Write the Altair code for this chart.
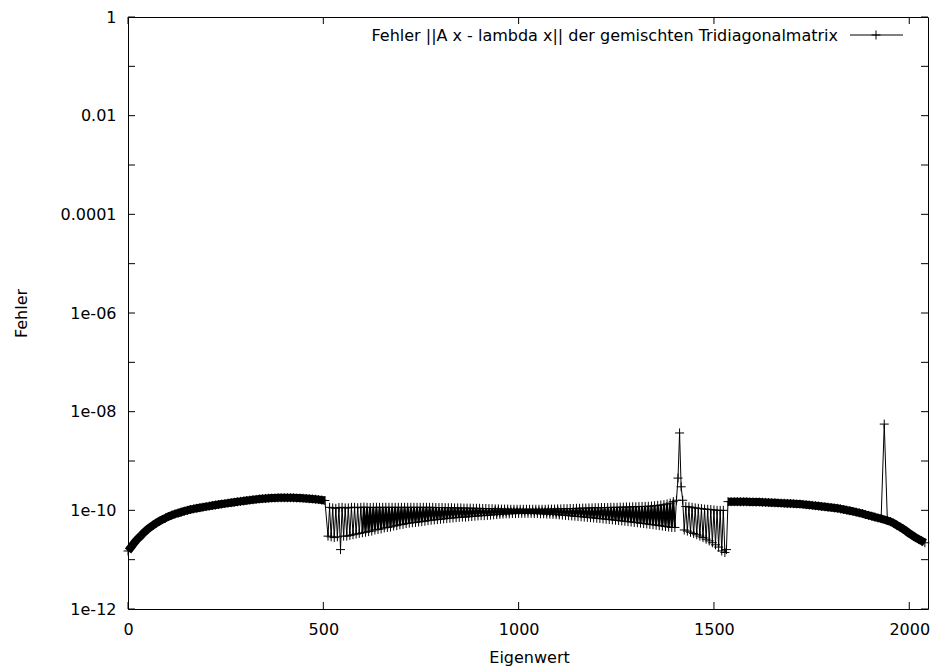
import altair as alt
import pandas as pd

# ---- data ----
x_seg1 = list(range(0, 512, 8))
err_seg1 = [
    1.5e-11, 1.8e-11, 2.2e-11, 2.6e-11, 3.0e-11, 3.5e-11, 4.0e-11, 4.5e-11,
    5.0e-11, 5.5e-11, 6.0e-11, 6.5e-11, 7.0e-11, 7.5e-11, 8.0e-11, 8.4e-11,
    8.8e-11, 9.2e-11, 9.6e-11, 1.0e-10, 1.04e-10, 1.07e-10, 1.10e-10, 1.13e-10,
    1.16e-10, 1.19e-10, 1.22e-10, 1.25e-10, 1.28e-10, 1.31e-10, 1.34e-10, 1.37e-10,
    1.40e-10, 1.43e-10, 1.46e-10, 1.49e-10, 1.52e-10, 1.55e-10, 1.58e-10, 1.61e-10,
    1.64e-10, 1.67e-10, 1.70e-10, 1.72e-10, 1.74e-10, 1.76e-10, 1.77e-10, 1.78e-10,
    1.79e-10, 1.80e-10, 1.80e-10, 1.80e-10, 1.80e-10, 1.79e-10, 1.78e-10, 1.77e-10,
    1.76e-10, 1.74e-10, 1.72e-10, 1.70e-10, 1.68e-10, 1.65e-10, 1.62e-10, 1.58e-10,
]

# middle part oscillates: one low value at x = 512 + 8k, one high value at x = 516 + 8k
x_seg2_low = list(range(512, 1536, 8))
x_seg2_high = list(range(516, 1536, 8))
err_seg2_low = [
    3.0e-11, 2.9e-11, 2.8e-11, 2.9e-11, 1.6e-11, 3.0e-11, 3.0e-11, 3.1e-11,
    3.2e-11, 3.3e-11, 3.4e-11, 3.5e-11, 3.6e-11, 3.7e-11, 3.8e-11, 4.0e-11,
    4.1e-11, 4.2e-11, 4.4e-11, 4.5e-11, 4.6e-11, 4.8e-11, 4.9e-11, 5.1e-11,
    5.2e-11, 5.4e-11, 5.5e-11, 5.6e-11, 5.7e-11, 5.8e-11, 5.9e-11, 6.0e-11,
    6.2e-11, 6.3e-11, 6.4e-11, 6.5e-11, 6.6e-11, 6.7e-11, 6.8e-11, 6.9e-11,
    7.0e-11, 7.1e-11, 7.2e-11, 7.3e-11, 7.3e-11, 7.4e-11, 7.5e-11, 7.6e-11,
    7.7e-11, 7.8e-11, 7.8e-11, 7.9e-11, 8.0e-11, 8.1e-11, 8.2e-11, 8.3e-11,
    8.4e-11, 8.5e-11, 8.5e-11, 8.6e-11, 8.6e-11, 8.7e-11, 8.7e-11, 8.7e-11,
    8.7e-11, 8.7e-11, 8.6e-11, 8.6e-11, 8.5e-11, 8.5e-11, 8.4e-11, 8.4e-11,
    8.3e-11, 8.2e-11, 8.1e-11, 8.0e-11, 7.9e-11, 7.8e-11, 7.7e-11, 7.6e-11,
    7.5e-11, 7.4e-11, 7.3e-11, 7.2e-11, 7.1e-11, 7.0e-11, 6.9e-11, 6.8e-11,
    6.7e-11, 6.6e-11, 6.5e-11, 6.4e-11, 6.3e-11, 6.2e-11, 6.1e-11, 6.0e-11,
    5.9e-11, 5.8e-11, 5.7e-11, 5.6e-11, 5.5e-11, 5.4e-11, 5.3e-11, 5.2e-11,
    5.1e-11, 5.0e-11, 4.9e-11, 4.8e-11, 4.7e-11, 4.6e-11, 4.5e-11, 4.5e-11,
    4.5e-10, 3.0e-10, 4.0e-11, 3.8e-11, 3.6e-11, 3.4e-11, 3.2e-11, 3.0e-11,
    2.8e-11, 2.6e-11, 2.4e-11, 2.2e-11, 2.0e-11, 1.8e-11, 1.5e-11, 1.4e-11,
]
err_seg2_high = [
    1.15e-10, 1.12e-10, 1.10e-10, 1.14e-10, 1.15e-10, 1.12e-10, 1.12e-10, 1.15e-10,
    1.15e-10, 1.13e-10, 1.15e-10, 1.16e-10, 1.15e-10, 1.14e-10, 1.15e-10, 1.15e-10,
    1.15e-10, 1.15e-10, 1.15e-10, 1.15e-10, 1.15e-10, 1.15e-10, 1.15e-10, 1.15e-10,
    1.15e-10, 1.15e-10, 1.15e-10, 1.15e-10, 1.15e-10, 1.15e-10, 1.15e-10, 1.15e-10,
    1.15e-10, 1.15e-10, 1.14e-10, 1.14e-10, 1.14e-10, 1.13e-10, 1.13e-10, 1.13e-10,
    1.12e-10, 1.12e-10, 1.12e-10, 1.11e-10, 1.11e-10, 1.11e-10, 1.10e-10, 1.10e-10,
    1.10e-10, 1.09e-10, 1.09e-10, 1.08e-10, 1.08e-10, 1.07e-10, 1.07e-10, 1.06e-10,
    1.06e-10, 1.06e-10, 1.05e-10, 1.05e-10, 1.05e-10, 1.05e-10, 1.05e-10, 1.05e-10,
    1.05e-10, 1.05e-10, 1.05e-10, 1.05e-10, 1.05e-10, 1.05e-10, 1.06e-10, 1.06e-10,
    1.06e-10, 1.07e-10, 1.07e-10, 1.08e-10, 1.08e-10, 1.09e-10, 1.09e-10, 1.10e-10,
    1.10e-10, 1.11e-10, 1.11e-10, 1.12e-10, 1.12e-10, 1.13e-10, 1.13e-10, 1.14e-10,
    1.14e-10, 1.14e-10, 1.15e-10, 1.15e-10, 1.15e-10, 1.16e-10, 1.16e-10, 1.17e-10,
    1.17e-10, 1.18e-10, 1.18e-10, 1.19e-10, 1.20e-10, 1.20e-10, 1.21e-10, 1.22e-10,
    1.24e-10, 1.26e-10, 1.28e-10, 1.30e-10, 1.35e-10, 1.40e-10, 1.50e-10, 1.60e-10,
    3.7e-9, 1.6e-10, 1.20e-10, 1.18e-10, 1.15e-10, 1.12e-10, 1.10e-10, 1.08e-10,
    1.06e-10, 1.05e-10, 1.04e-10, 1.02e-10, 1.00e-10, 1.00e-10, 1.00e-10, 1.6e-11,
]

x_seg3 = list(range(1536, 2048, 8))
err_seg3 = [
    1.50e-10, 1.50e-10, 1.50e-10, 1.50e-10, 1.49e-10, 1.49e-10, 1.49e-10, 1.48e-10,
    1.48e-10, 1.47e-10, 1.47e-10, 1.46e-10, 1.45e-10, 1.44e-10, 1.43e-10, 1.42e-10,
    1.41e-10, 1.40e-10, 1.39e-10, 1.38e-10, 1.37e-10, 1.36e-10, 1.35e-10, 1.34e-10,
    1.32e-10, 1.30e-10, 1.28e-10, 1.26e-10, 1.24e-10, 1.22e-10, 1.20e-10, 1.18e-10,
    1.16e-10, 1.14e-10, 1.12e-10, 1.10e-10, 1.07e-10, 1.04e-10, 1.01e-10, 9.8e-11,
    9.5e-11, 9.2e-11, 8.9e-11, 8.6e-11, 8.2e-11, 7.9e-11, 7.6e-11, 7.3e-11,
    7.0e-11, 6.8e-11, 5.6e-9, 6.2e-11, 5.9e-11, 5.5e-11, 5.0e-11, 4.6e-11,
    4.2e-11, 3.8e-11, 3.4e-11, 3.1e-11, 2.8e-11, 2.6e-11, 2.4e-11, 2.2e-11,
]

x_ticks = [0, 500, 1000, 1500, 2000]
y_label_values = [1, 1e-2, 1e-4, 1e-6, 1e-8, 1e-10, 1e-12]
y_tick_labels = ["1", "0.01", "0.0001", "1e-06", "1e-08", "1e-10", "1e-12"]
y_tick_values = [1, 1e-1, 1e-2, 1e-3, 1e-4, 1e-5, 1e-6, 1e-7, 1e-8, 1e-9, 1e-10, 1e-11, 1e-12]
legend_label = "Fehler ||A x - lambda x|| der gemischten Tridiagonalmatrix"
x_title = "Eigenwert"
y_title = "Fehler"

# ---- build table ----
x_seg2, err_seg2 = [], []
for xl, el, xh, eh in zip(x_seg2_low, err_seg2_low, x_seg2_high, err_seg2_high):
    x_seg2 += [xl, xh]
    err_seg2 += [el, eh]

df = pd.DataFrame({
    "x": x_seg1 + x_seg2 + x_seg3,
    "err": err_seg1 + err_seg2 + err_seg3,
    "seg": [1] * len(x_seg1) + [2] * len(x_seg2) + [3] * len(x_seg3),
})

FONT = "DejaVu Sans"
FS = 16
W, H = 800, 592
CROSS = "M-1,0H1M0,-1V1"

label_lookup = "[" + ",".join("'%s'" % s for s in y_tick_labels) + "]"

x_enc = alt.X(
    "x:Q",
    scale=alt.Scale(domain=[0, 2048], nice=False, zero=False),
    axis=alt.Axis(
        values=x_ticks, ticks=False, domain=False, grid=False, format="d",
        labelFont=FONT, labelFontSize=FS, labelColor="black", labelPadding=12,
        labelFlush=False,
        title=x_title, titleFont=FONT, titleFontSize=FS, titleFontWeight="normal",
        titleColor="black", titleX=401, titleY=53, titleBaseline="alphabetic",
    ),
)
y_enc = alt.Y(
    "err:Q",
    scale=alt.Scale(type="log", domain=[1e-12, 1], nice=False),
    axis=alt.Axis(
        values=y_label_values, ticks=False, domain=False, grid=False,
        labelExpr=label_lookup + "[round(-log(datum.value)/LN10/2)]",
        labelFont=FONT, labelFontSize=FS, labelColor="black", labelPadding=12,
        labelFlush=False,
        title=y_title, titleFont=FONT, titleFontSize=FS, titleFontWeight="normal",
        titleColor="black", titleAngle=-90, titleX=-102, titleY=296,
        titleBaseline="alphabetic", titleAlign="center",
    ),
)

base = alt.Chart(df)
thin_line = base.mark_line(color="black", strokeWidth=1).encode(x=x_enc, y=y_enc)
band = base.transform_filter("datum.seg != 2 && datum.err < 1e-9").mark_line(
    color="black", strokeWidth=8, strokeCap="butt"
).encode(x=x_enc, y=y_enc, detail="seg:N")
# dense middle: points overlap so heavily there that the zig-zag reads as solid
dense = base.transform_filter(
    "datum.seg == 2 && datum.x >= 600 && datum.x <= 1400"
).mark_line(color="black", strokeWidth=2).encode(x=x_enc, y=y_enc)
points = base.mark_point(
    shape=CROSS, size=81, filled=False, color="black", strokeWidth=1, opacity=1
).encode(x=x_enc, y=y_enc)

xt = alt.Chart(pd.DataFrame({"x": x_ticks}))
x_ticks_bottom = xt.mark_rule(color="black", strokeWidth=1).encode(
    x=x_enc, y=alt.value(H), y2=alt.value(H - 7))
x_ticks_top = xt.mark_rule(color="black", strokeWidth=1).encode(
    x=x_enc, y=alt.value(0), y2=alt.value(7))

yt = alt.Chart(pd.DataFrame({"err": y_tick_values}))
y_ticks_left = yt.mark_rule(color="black", strokeWidth=1).encode(
    y=y_enc, x=alt.value(0), x2=alt.value(7))
y_ticks_right = yt.mark_rule(color="black", strokeWidth=1).encode(
    y=y_enc, x=alt.value(W), x2=alt.value(W - 7))

leg = alt.Chart(pd.DataFrame({"label": [legend_label]}))
legend_text = leg.mark_text(
    align="right", baseline="middle", font=FONT, fontSize=FS, color="black"
).encode(text="label:N", x=alt.value(710), y=alt.value(19))
legend_line = leg.mark_rule(color="black", strokeWidth=1).encode(
    x=alt.value(722), x2=alt.value(775), y=alt.value(18))
legend_pt = leg.mark_point(
    shape=CROSS, size=81, filled=False, color="black", strokeWidth=1, opacity=1
).encode(x=alt.value(748), y=alt.value(18))

chart = alt.layer(
    band, thin_line, dense, points,
    x_ticks_bottom, x_ticks_top, y_ticks_left, y_ticks_right,
    legend_text, legend_line, legend_pt,
).properties(
    width=W, height=H,
    autosize=alt.AutoSizeParams(type="none"),
    padding={"left": 128, "top": 17, "right": 4, "bottom": 59},
    background="white",
).configure_view(stroke="black", strokeWidth=1)

chart.save("out.html", embed_options={"renderer": "svg", "actions": False})
